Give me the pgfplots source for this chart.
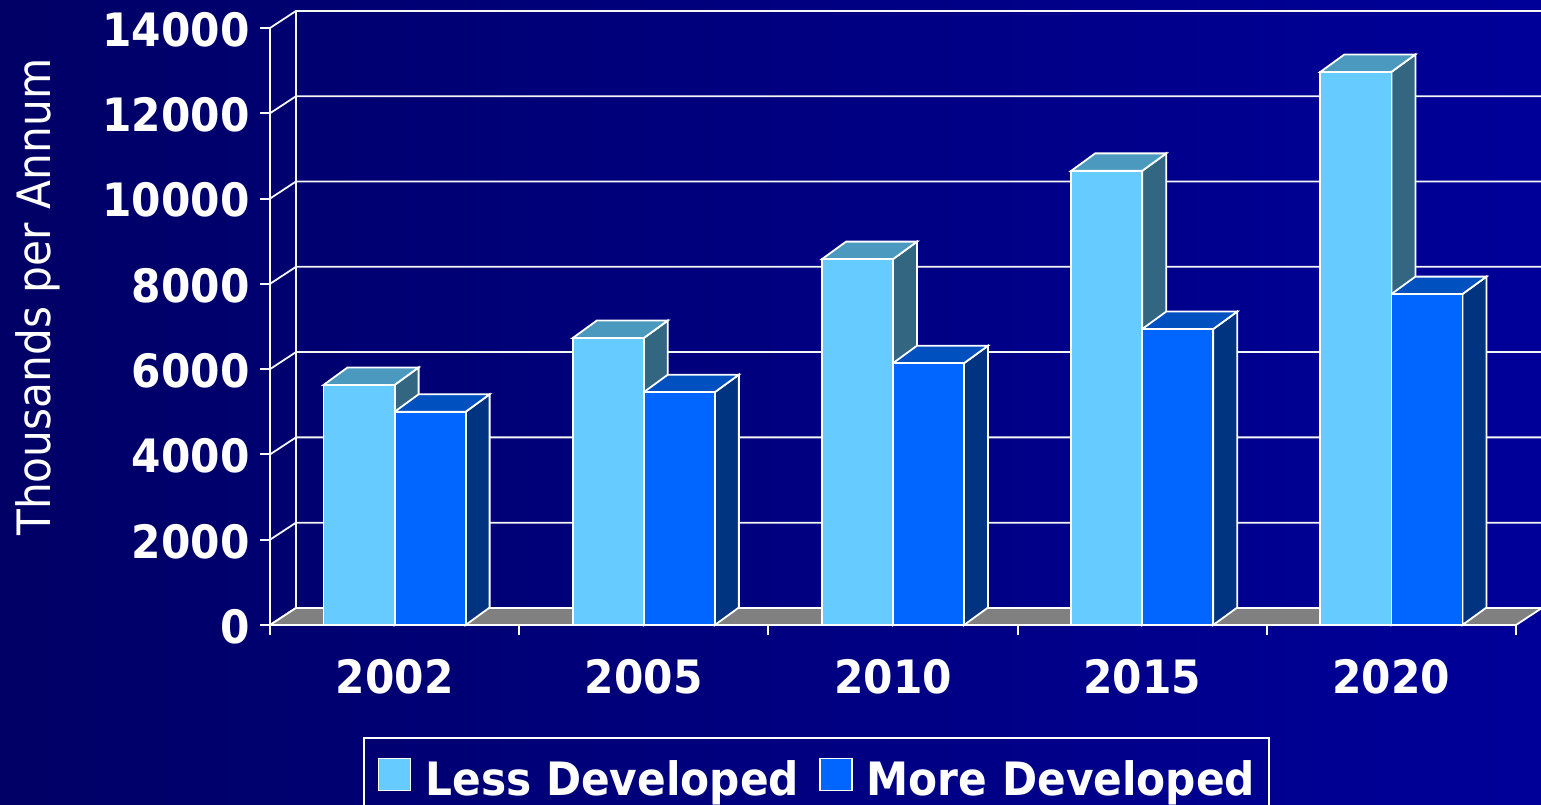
\documentclass[border=0pt]{standalone}
\usepackage{fontspec}
\setmainfont[FakeStretch=0.92]{DejaVu Sans}
\usepackage{pgfplots}
\pgfplotsset{compat=1.18}
\usepackage{pgfplotstable}

\definecolor{bgl}{HTML}{000066}
\definecolor{bgr}{HTML}{000099}
\definecolor{lessfront}{HTML}{66CCFF}
\definecolor{lesstop}{HTML}{4C99BF}
\definecolor{lessside}{HTML}{336680}
\definecolor{morefront}{HTML}{0066FF}
\definecolor{moretop}{HTML}{0050C0}
\definecolor{moreside}{HTML}{003380}
\definecolor{floorgray}{HTML}{808080}

\pgfplotstableread{
x less more
0 5630 5000
1 6730 5460
2 8580 6140
3 10650 6940
4 12970 7760
}\data

\newcommand\bw{0.285}
\newcommand\bdx{0.0964}
\newcommand\bdy{410}

\newcommand\depthfaces[4]{%
  \pgfmathsetmacro\xL{#1}%
  \pgfmathsetmacro\xR{#1+\bw}%
  \pgfmathsetmacro\xLb{#1+\bdx}%
  \pgfmathsetmacro\xRb{#1+\bw+\bdx}%
  \pgfmathsetmacro\vT{#2}%
  \pgfmathsetmacro\vB{#2+\bdy}%
  \edef\tmp{\noexpand\addplot[fill=#4, draw=white, line width=0.9pt, forget plot] coordinates {(\xR,0) (\xRb,\bdy) (\xRb,\vB) (\xR,\vT)} -- cycle;
  \noexpand\addplot[fill=#3, draw=white, line width=0.9pt, forget plot] coordinates {(\xL,\vT) (\xLb,\vB) (\xRb,\vB) (\xR,\vT)} -- cycle;}%
  \tmp
}

\begin{document}
\begin{tikzpicture}
\path[use as bounding box] (0,0) rectangle (770.5pt,402pt);
\shade[left color=bgl, right color=bgr] (0,0) rectangle (770.5pt,402pt);
\begin{axis}[
  at={(135pt,89.5pt)}, anchor=south west,
  scale only axis, width=623pt, height=298.5pt,
  xmin=-0.5, xmax=4.5, ymin=0, ymax=14000,
  clip=false,
  scaled y ticks=false,
  axis x line*=bottom, axis y line*=left,
  axis line style={white, line width=1pt, -},
  ytick={0,2000,...,14000},
  yticklabels={0,2000,4000,6000,8000,10000,12000,14000},
  xtick={-0.5,0.5,1.5,2.5,3.5,4.5},
  x tick label as interval,
  xticklabels={2002,2005,2010,2015,2020},
  tick align=outside,
  major tick length=5pt,
  tick style={white, line width=1pt},
  ticklabel style={font=\bfseries\fontsize{23}{27}\selectfont, text=white, inner sep=0pt},
  yticklabel style={xshift=-5pt, yshift=-0.8pt},
  xticklabel style={yshift=-12pt},
  ylabel={Thousands per Annum},
  ylabel style={font=\fontsize{23}{27}\selectfont, text=white, at={(axis description cs:-0.1759,0.549)}, anchor=base},
  legend columns=2,
  legend cell align=left,
  legend style={at={(0.0746,-0.1876)}, anchor=north west, draw=white, line width=0.8pt, fill=none, text=white,
    font=\bfseries\fontsize{23}{27}\selectfont, inner xsep=7pt, inner ysep=10pt, nodes={inner sep=0pt},
    /tikz/column 1/.style={column sep=7pt}, /tikz/column 2/.style={column sep=10pt}, /tikz/column 3/.style={column sep=7pt}},
]
% back wall grid lines with left-wall connectors
\pgfplotsforeachungrouped \v in {0,2000,...,14000}{%
  \pgfmathsetmacro\vb{\v+400}%
  \edef\tmp{\noexpand\addplot[white!92!gray, line width=0.9pt, forget plot] coordinates {(-0.5,\v) (-0.3956,\vb) (4.6044,\vb)};}%
  \tmp
}
\addplot[white!92!gray, line width=0.9pt, forget plot] coordinates {(-0.3956,400) (-0.3956,14400)};
% floor
\addplot[fill=floorgray, draw=white, line width=0.9pt, forget plot] coordinates {(-0.5,0) (-0.3956,400) (4.6044,400) (4.5,0)} -- cycle;
% depth faces of the bars
\pgfplotsforeachungrouped \i in {0,...,4}{%
  \pgfplotstablegetelem{\i}{less}\of\data \let\vl\pgfplotsretval
  \pgfplotstablegetelem{\i}{more}\of\data \let\vm\pgfplotsretval
  \pgfmathsetmacro\xa{\i-\bw}%
  \depthfaces{\xa}{\vl}{lesstop}{lessside}%
  \depthfaces{\i}{\vm}{moretop}{moreside}%
}
% front faces
\addplot[ybar, bar width=0.285, bar shift=-0.1425, fill=lessfront, draw=white, line width=0.9pt,
  legend image code/.code={\draw[fill=lessfront, draw=white, line width=0.8pt] (0pt,-5.4pt) rectangle (16pt,10.6pt);}]
  table[x=x, y=less]{\data};
\addlegendentry{Less Developed}
\addplot[ybar, bar width=0.285, bar shift=0.1425, fill=morefront, draw=white, line width=0.9pt,
  legend image code/.code={\draw[fill=morefront, draw=white, line width=0.8pt] (0pt,-5.4pt) rectangle (16pt,10.6pt);}]
  table[x=x, y=more]{\data};
\addlegendentry{More Developed}
\end{axis}
\end{tikzpicture}
\end{document}
